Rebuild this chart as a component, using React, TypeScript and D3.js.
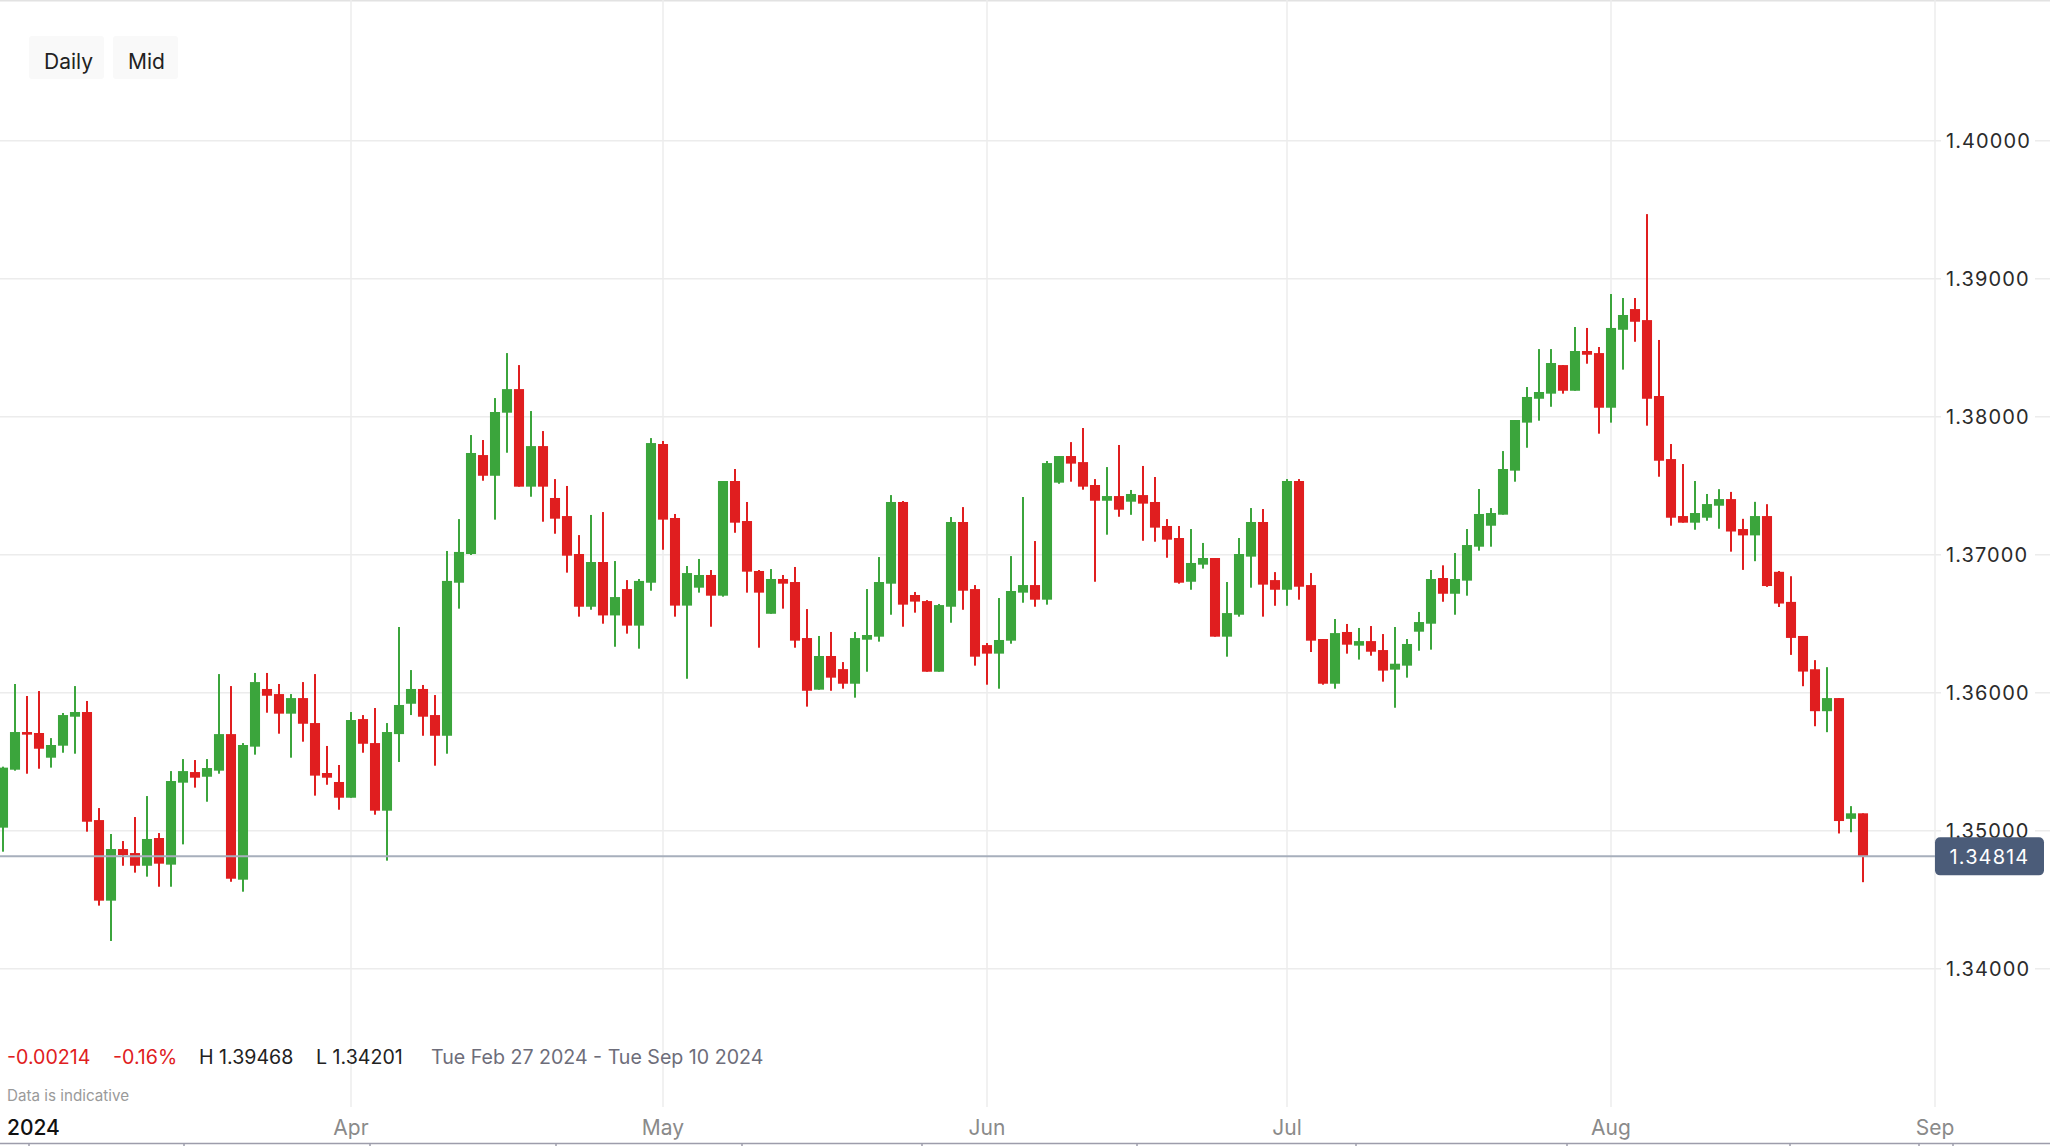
import React from 'react';
import * as d3 from 'd3';

// ---- Data (USD/CAD daily, mid) ----
const START_DATE = '2024-02-27';

const OPEN = [
  1.35022, 1.35442, 1.35715, 1.35708, 1.35529, 1.35616, 1.35826, 1.3586, 1.35077, 1.34493,
  1.34867, 1.34838, 1.34746, 1.34947, 1.34754, 1.35348, 1.35425, 1.35391, 1.35435, 1.357,
  1.34645, 1.35609, 1.36027, 1.3599, 1.35848, 1.35961, 1.3578, 1.35418, 1.35353, 1.35239,
  1.35809, 1.35635, 1.35145, 1.357, 1.3592, 1.36027, 1.35838, 1.35688, 1.36797, 1.37005,
  1.37722, 1.37572, 1.38029, 1.382, 1.37493, 1.37787, 1.37411, 1.3728, 1.37005, 1.36623,
  1.36947, 1.3656, 1.36751, 1.36486, 1.36797, 1.37802, 1.37266, 1.36631, 1.36761, 1.36853,
  1.36703, 1.37534, 1.37244, 1.36882, 1.36572, 1.36824, 1.36802, 1.36396, 1.36022, 1.36266,
  1.36171, 1.36065, 1.36384, 1.36406, 1.3679, 1.37382, 1.36708, 1.36664, 1.36152, 1.36623,
  1.37237, 1.36751, 1.36345, 1.36283, 1.36377, 1.36725, 1.3678, 1.36674, 1.37522, 1.37715,
  1.37671, 1.37505, 1.37391, 1.37425, 1.37384, 1.37432, 1.37382, 1.37208, 1.37121, 1.36804,
  1.36928, 1.36976, 1.36406, 1.36565, 1.36986, 1.37237, 1.36816, 1.36746, 1.37534, 1.3678,
  1.36389, 1.36065, 1.3644, 1.36341, 1.36374, 1.36309, 1.36167, 1.36196, 1.36442, 1.365,
  1.36831, 1.36717, 1.36812, 1.37058, 1.3721, 1.3729, 1.37609, 1.37957, 1.3813, 1.38167,
  1.38374, 1.38188, 1.38476, 1.38461, 1.38065, 1.3863, 1.3878, 1.387, 1.3815, 1.37693,
  1.3728, 1.37232, 1.37268, 1.37355, 1.37403, 1.37186, 1.3714, 1.3728, 1.36876, 1.36658,
  1.36411, 1.3617, 1.35866, 1.35961, 1.35086, 1.35126,
];

const HIGH = [
  1.35464, 1.36063, 1.35976, 1.36012, 1.35671, 1.35853, 1.36048, 1.3594, 1.35164, 1.34976,
  1.34925, 1.35099, 1.35251, 1.34983, 1.35432, 1.35519, 1.35512, 1.35519, 1.36135, 1.36048,
  1.35635, 1.36143, 1.36143, 1.36063, 1.3599, 1.36077, 1.36135, 1.35614, 1.35476, 1.3586,
  1.35838, 1.35889, 1.3578, 1.36476, 1.36164, 1.36056, 1.35983, 1.37027, 1.37258, 1.37867,
  1.37831, 1.38135, 1.38461, 1.38374, 1.38041, 1.37896, 1.37548, 1.37498, 1.37142, 1.37288,
  1.37309, 1.36954, 1.36816, 1.36824, 1.37845, 1.37824, 1.37295, 1.36918, 1.36969, 1.36889,
  1.37534, 1.37621, 1.37382, 1.36889, 1.36896, 1.36853, 1.36911, 1.36606, 1.36411, 1.3644,
  1.36222, 1.3644, 1.36751, 1.36983, 1.37432, 1.37389, 1.3673, 1.36671, 1.36643, 1.37273,
  1.37345, 1.3678, 1.3636, 1.36686, 1.3699, 1.37418, 1.37099, 1.37679, 1.37715, 1.37816,
  1.37918, 1.37548, 1.37635, 1.37795, 1.37469, 1.37643, 1.37563, 1.37258, 1.37208, 1.37186,
  1.37085, 1.36976, 1.36802, 1.37121, 1.37338, 1.37331, 1.36874, 1.37548, 1.37548, 1.36867,
  1.36389, 1.36534, 1.36498, 1.36469, 1.36483, 1.36425, 1.36476, 1.36389, 1.36585, 1.36889,
  1.36923, 1.37012, 1.37186, 1.37476, 1.37338, 1.37751, 1.37976, 1.38215, 1.3849, 1.3849,
  1.38374, 1.3865, 1.38643, 1.38505, 1.38889, 1.3886, 1.3886, 1.39468, 1.38556, 1.37802,
  1.37657, 1.37534, 1.3744, 1.37475, 1.37455, 1.3726, 1.37383, 1.37366, 1.36882, 1.36844,
  1.36411, 1.36236, 1.36185, 1.35961, 1.35178, 1.35126,
];

const LOW = [
  1.34848, 1.35435, 1.35413, 1.35449, 1.35457, 1.35565, 1.35558, 1.34993, 1.34457, 1.34201,
  1.34746, 1.34696, 1.34667, 1.34594, 1.34594, 1.34901, 1.35312, 1.3521, 1.35413, 1.3463,
  1.34558, 1.35551, 1.35855, 1.35703, 1.35529, 1.35645, 1.35254, 1.35333, 1.35152, 1.35239,
  1.35565, 1.35116, 1.34783, 1.35498, 1.35838, 1.35688, 1.35471, 1.35558, 1.36609, 1.36998,
  1.37536, 1.37254, 1.37739, 1.37493, 1.3742, 1.37239, 1.37152, 1.3687, 1.36551, 1.36601,
  1.365, 1.36333, 1.36428, 1.36319, 1.36739, 1.37036, 1.36551, 1.36101, 1.36725, 1.36478,
  1.36696, 1.37159, 1.36725, 1.36326, 1.36572, 1.36609, 1.36326, 1.35899, 1.36022, 1.36014,
  1.36029, 1.35964, 1.36152, 1.3637, 1.36565, 1.36478, 1.3658, 1.36152, 1.36152, 1.36507,
  1.36601, 1.36196, 1.36058, 1.36029, 1.36355, 1.36652, 1.36623, 1.36638, 1.37514, 1.37529,
  1.37471, 1.36804, 1.37145, 1.37275, 1.37289, 1.37101, 1.37094, 1.36978, 1.3679, 1.36746,
  1.36899, 1.36406, 1.36261, 1.36551, 1.36761, 1.36551, 1.3663, 1.3663, 1.36674, 1.36295,
  1.36058, 1.36029, 1.36283, 1.3624, 1.36268, 1.3608, 1.35891, 1.36109, 1.36304, 1.36312,
  1.36659, 1.36565, 1.36703, 1.37029, 1.37058, 1.3729, 1.37529, 1.37775, 1.37971, 1.38072,
  1.38167, 1.38188, 1.38384, 1.37877, 1.37957, 1.38341, 1.38543, 1.37935, 1.37565, 1.3721,
  1.37232, 1.37181, 1.37246, 1.37188, 1.37022, 1.3689, 1.36953, 1.36767, 1.36621, 1.36274,
  1.36047, 1.35757, 1.35714, 1.3498, 1.34989, 1.34627,
];

const CLOSE = [
  1.35457, 1.35715, 1.35696, 1.35594, 1.35621, 1.35838, 1.3586, 1.35065, 1.34493, 1.34867,
  1.34824, 1.34746, 1.3494, 1.34761, 1.3536, 1.35432, 1.35384, 1.35454, 1.357, 1.34652,
  1.35621, 1.36077, 1.35978, 1.35848, 1.35961, 1.35775, 1.35399, 1.35384, 1.35239, 1.35802,
  1.3563, 1.35145, 1.35715, 1.35911, 1.36027, 1.35826, 1.35688, 1.3681, 1.3702, 1.37737,
  1.37572, 1.38034, 1.382, 1.37493, 1.37787, 1.37493, 1.37261, 1.36993, 1.36623, 1.36947,
  1.3656, 1.36693, 1.36486, 1.3681, 1.37809, 1.37254, 1.36631, 1.36867, 1.36853, 1.36703,
  1.37534, 1.37232, 1.36877, 1.36725, 1.36824, 1.3679, 1.36377, 1.36014, 1.36266, 1.36109,
  1.36065, 1.36396, 1.36418, 1.36802, 1.37382, 1.36638, 1.3666, 1.36152, 1.36635, 1.37237,
  1.36739, 1.36261, 1.36283, 1.36382, 1.36737, 1.3678, 1.36674, 1.37664, 1.37715, 1.3766,
  1.37493, 1.37391, 1.37425, 1.37326, 1.3744, 1.3737, 1.37196, 1.37109, 1.36797, 1.3694,
  1.36976, 1.36406, 1.36577, 1.37005, 1.37237, 1.36783, 1.36746, 1.37534, 1.36768, 1.36377,
  1.36065, 1.36432, 1.36348, 1.36374, 1.36297, 1.3616, 1.3621, 1.36353, 1.36512, 1.36824,
  1.36717, 1.36824, 1.3707, 1.37295, 1.37302, 1.37621, 1.37976, 1.38143, 1.38179, 1.38389,
  1.38188, 1.38476, 1.38449, 1.38065, 1.38643, 1.38737, 1.38688, 1.3813, 1.37681, 1.37268,
  1.37232, 1.37302, 1.37367, 1.37403, 1.37168, 1.3714, 1.3728, 1.36773, 1.36646, 1.36397,
  1.36153, 1.35866, 1.35961, 1.3507, 1.35126, 1.34814,
];

const Y_TICKS = [1.34, 1.35, 1.36, 1.37, 1.38, 1.39, 1.4];
const MONTH_TICKS = [
  { date: '2024-04-01', label: 'Apr' },
  { date: '2024-05-01', label: 'May' },
  { date: '2024-06-01', label: 'Jun' },
  { date: '2024-07-01', label: 'Jul' },
  { date: '2024-08-01', label: 'Aug' },
  { date: '2024-09-01', label: 'Sep' },
];
const LAST_PRICE = 1.34814;
const YEAR_LABEL = '2024';
const STAT_CHANGE = '-0.00214';
const STAT_PCT = '-0.16%';
const RANGE_TEXT = 'Tue Feb 27 2024 - Tue Sep 10 2024';

// ---- Trading calendar (forex: every day except Saturday) ----
const DAY = 86400000;
function buildDates(start: string, n: number): Date[] {
  const out: Date[] = [];
  let t = Date.parse(start + 'T00:00:00Z');
  while (out.length < n) {
    const d = new Date(t);
    if (d.getUTCDay() !== 6) out.push(d);
    t += DAY;
  }
  return out;
}

const W = 2050;
const H = 1146;
const PLOT_RIGHT = 1935;
const FONT = 'Inter, "Noto Sans", Roboto, sans-serif';

export default function App() {
  const n = CLOSE.length;
  const dates = buildDates(START_DATE, n);
  const lastT = dates[n - 1].getTime();
  const dateIndex = (s: string) => {
    const t = Date.parse(s + 'T00:00:00Z');
    if (t <= lastT) return dates.findIndex((d) => d.getTime() >= t);
    return n - 1 + Math.round((t - lastT) / DAY);
  };
  const endIdx = dateIndex(MONTH_TICKS[MONTH_TICKS.length - 1].date);

  const x = d3.scaleLinear().domain([0, endIdx]).range([3, PLOT_RIGHT]);
  const y = d3.scaleLinear().domain([1.34, 1.4]).range([968.7, 140.7]);

  const bodyW = (x(1) - x(0)) * 0.84;
  const green = '#3ba53c';
  const red = '#e01e1f';
  const grid = '#ececec';
  const fmt = d3.format('.5f');

  const candles = d3.range(n).map((i) => {
    const o = OPEN[i], c = CLOSE[i], h = HIGH[i], l = LOW[i];
    const up = c >= o;
    const top = y(Math.max(o, c));
    const bot = y(Math.min(o, c));
    return { i, up, top, h: Math.max(2, bot - top), hi: y(Math.max(h, o, c)), lo: y(Math.min(l, o, c)) };
  });

  const maxH = d3.max(HIGH) as number;
  const minL = d3.min(LOW) as number;

  const navTicks = [29, 184, 370, 556, 742, 922, 1137, 1356, 1567, 1790, 1919, 1953];

  return (
    <svg
      width={W}
      height={H}
      viewBox={`0 0 ${W} ${H}`}
      style={{ position: 'absolute', left: 0, top: 0, background: '#fff', fontFamily: FONT }}
    >
      <defs>
        <clipPath id="plotClip">
          <rect x={0} y={0} width={PLOT_RIGHT} height={1110} />
        </clipPath>
      </defs>
      <rect x={0} y={0} width={W} height={H} fill="#fff" />
      <line x1={0} x2={W} y1={0.75} y2={0.75} stroke="#e2e2e2" strokeWidth={1.5} />

      {/* horizontal grid */}
      {Y_TICKS.map((t) => (
        <line key={'hg' + t} x1={0} x2={W} y1={y(t)} y2={y(t)} stroke={grid} strokeWidth={1.5} />
      ))}
      {/* vertical grid */}
      {MONTH_TICKS.map((m) => (
        <line
          key={'vg' + m.label}
          x1={x(dateIndex(m.date))}
          x2={x(dateIndex(m.date))}
          y1={0}
          y2={1107}
          stroke={grid}
          strokeWidth={1.5}
        />
      ))}

      {/* candles */}
      <g clipPath="url(#plotClip)">
        {candles.map((c) => (
          <g key={c.i} fill={c.up ? green : red} stroke="none">
            <rect x={x(c.i) - 1} y={c.hi} width={2} height={Math.max(1, c.lo - c.hi)} />
            <rect x={x(c.i) - bodyW / 2} y={c.top} width={bodyW} height={c.h} />
          </g>
        ))}
        <line x1={0} x2={PLOT_RIGHT} y1={y(LAST_PRICE)} y2={y(LAST_PRICE)} stroke="#a7afbc" strokeWidth={2} />
      </g>

      {/* y axis labels */}
      {Y_TICKS.map((t) => (
        <g key={'yl' + t}>
          <rect x={1941} y={y(t) - 10} width={94} height={20} fill="#fff" />
          <text
            x={1946}
            y={y(t)}
            dy="0.36em"
            fontSize={20}
            letterSpacing={1.1}
            fill="#2b2b2b"
          >
            {fmt(t)}
          </text>
        </g>
      ))}

      {/* last price label */}
      <rect x={PLOT_RIGHT} y={y(LAST_PRICE) - 19} width={109} height={38} rx={5} fill="#4b5c79" />
      <text
        x={PLOT_RIGHT + 54.5}
        y={y(LAST_PRICE)}
        dy="0.36em"
        textAnchor="middle"
        fontSize={20}
        letterSpacing={1.1}
        fill="#fff"
      >
        {fmt(LAST_PRICE)}
      </text>

      {/* top buttons */}
      <rect x={29} y={36} width={75} height={43} rx={3} fill="#f9f9f9" />
      <text x={44} y={69} fontSize={21} fill="#222">Daily</text>
      <rect x={113} y={36} width={65} height={43} rx={3} fill="#f9f9f9" />
      <text x={128} y={69} fontSize={21} fill="#222">Mid</text>

      {/* stats row */}
      <text x={7} y={1064} fontSize={19.6} fill="#e0201e">{STAT_CHANGE}</text>
      <text x={113} y={1064} fontSize={19.6} fill="#e0201e">{STAT_PCT}</text>
      <text x={199} y={1064} fontSize={19.6} fill="#222">{'H ' + fmt(maxH)}</text>
      <text x={316} y={1064} fontSize={19.6} fill="#222">{'L ' + fmt(minL)}</text>
      <text x={431} y={1064} fontSize={19.6} fill="#6d6d7a">{RANGE_TEXT}</text>
      <text x={7} y={1101} fontSize={15.2} fill="#9a9a9a">Data is indicative</text>

      {/* x axis labels */}
      <text x={7} y={1134.5} fontSize={21} fontWeight={500} fill="#111">{YEAR_LABEL}</text>
      {MONTH_TICKS.map((m) => (
        <text
          key={'ml' + m.label}
          x={x(dateIndex(m.date))}
          y={1134.5}
          fontSize={21}
          textAnchor="middle"
          fill="#8a8a8a"
        >
          {m.label}
        </text>
      ))}

      {/* navigator strip */}
      <line x1={0} x2={W} y1={1143.5} y2={1143.5} stroke="#9d9dab" strokeWidth={1.5} />
      {navTicks.map((t) => (
        <line key={'nt' + t} x1={t} x2={t} y1={1143} y2={1146} stroke="#9d9dab" strokeWidth={1.5} />
      ))}
    </svg>
  );
}
